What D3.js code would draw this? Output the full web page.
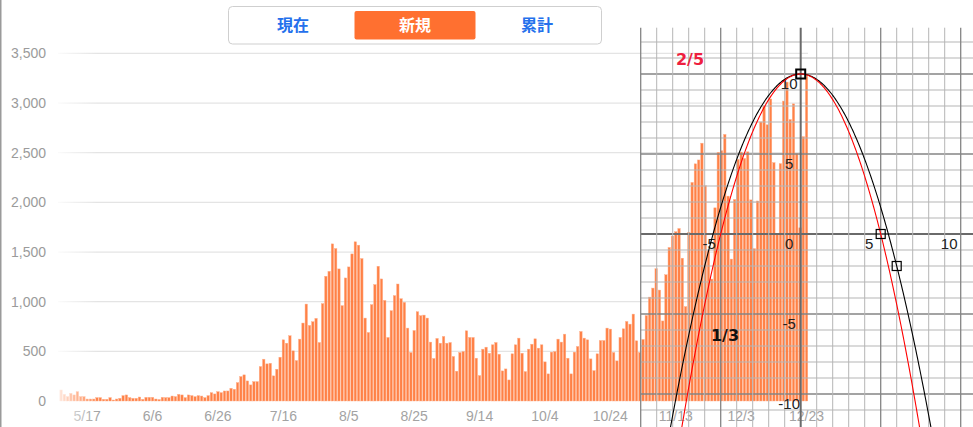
<!DOCTYPE html>
<html><head><meta charset="utf-8">
<script src="https://cdn.jsdelivr.net/npm/d3@7"></script>
<style>html,body{margin:0;padding:0;background:#fff;overflow:hidden}svg{display:block}</style>
</head><body><svg id="c" width="973" height="427"></svg>
<script>
// ---------- data ----------
const startDate = "2020-05-09";
const dailyNew = [
 111,67,44,77,61,94,44,44,20,20,20,34,34,17,17,34,10,20,27,54,61,34,27,
 27,40,17,37,37,37,20,15,37,34,34,50,44,67,61,34,61,
 54,44,54,50,34,54,84,71,94,84,101,101,128,
 118,185,246,263,202,162,195,195,347,421,374,380,253,320,441,616,582,657,505,407,623,785,976,761,798,832,589,
 980,1256,1306,1582,
 1535,1330,960,1239,1350,1481,1603,1569,1434,835,690,970,1172,1357,1229,1013,640,909,1061,1178,1030,993,734,488,710,899,859,865,835,593,428,
 630,582,650,582,589,448,300,488,498,707,640,640,431,256,522,542,481,566,589,471,303,323,212,475,566,633,481,296,522,572,
 626,532,566,394,273,492,498,623,593,673,431,273,492,549,700,633,616,424,306,475,609,609,734,724,488,404,640,727,801,774,875,
 606,488,620,860,1046,1137,1332,1117,806,1271,1546,1661,1704,1737,1438,950,1699,2201,2388,2427,2596,2168,1518,1228,1945,2504,2520,2684,2063,1429,
 2029,2433,2506,2442,2509,2025,1534,2014,2810,2972,2781,3041,2400,1679,2390,3020,3211,2834,2992,2491,1744,2661,3271
];
const yTicks = [0,500,1000,1500,2000,2500,3000,3500];
const xTickLabels = ["5/17","6/6","6/26","7/16","8/5","8/25","9/14","10/4","10/24","11/13","12/3","12/23"];
const tabLabels = ["現在","新規","累計"];
const activeTab = "新規";
// overlay (graph paper)
const gridRange = [-10, 10];
const gridMajorStep = 5;
const gridTickLabelsX = [-5,0,5,10];
const gridTickLabelsY = [10,5,-5,-10];
const curveCoefs = [-1/3, -2/5];
const curveIntercept = 10;
const curveNames = ["1/3","2/5"];
const markerPoints = [[0,10],[5,0],[6,-2]];

// ---------- chart ----------
const svg = d3.select("#c");
const W = 973, H = 427;
const parse = d3.timeParse("%Y-%m-%d");
const d0 = parse(startDate);
const dates = dailyNew.map((v,i)=>d3.timeDay.offset(d0,i));
const fmt = d=>(d.getMonth()+1)+"/"+d.getDate();
const cats = dates.map(fmt);

const x = d3.scaleBand().domain(cats).range([59.37, 59.37 + 3.27*cats.length]).padding(0);
const y = d3.scaleLinear().domain([0,3500]).range([401, 53.4]);
const step = x.step();

// left border
svg.append("line").attr("x1",0.75).attr("x2",0.75).attr("y1",0).attr("y2",H)
  .attr("stroke","#9a9a9a").attr("stroke-width",1.5);

// gridlines
svg.append("g").selectAll("line").data(yTicks.filter(t=>t>0)).join("line")
  .attr("x1",58).attr("x2",808).attr("y1",d=>y(d)).attr("y2",d=>y(d))
  .attr("stroke","#e4e4e4").attr("stroke-width",1.3);

// y labels
svg.append("g").selectAll("text").data(yTicks).join("text")
  .attr("x",46).attr("y",d=>y(d)+5).attr("text-anchor","end")
  .attr("font-family","'Liberation Sans',Arial,sans-serif").attr("font-size",14)
  .attr("fill","#9b9b9b").text(d=>d3.format(",")(d));

// bars
svg.append("g").selectAll("rect").data(dailyNew).join("rect")
  .attr("x",(d,i)=>x(cats[i])+step*0.13).attr("width",step*0.74)
  .attr("y",d=>y(d)).attr("height",d=>y(0)-y(d))
  .attr("fill","#ff7636").attr("fill-opacity",0.92)
  .attr("stroke","#ffb08c").attr("stroke-width",0.45);

// x labels
svg.append("g").selectAll("text").data(xTickLabels).join("text")
  .attr("x",d=>x(d)+step/2).attr("y",421).attr("text-anchor","middle")
  .attr("font-family","'Liberation Sans',Arial,sans-serif").attr("font-size",14)
  .attr("fill","#a3a3a3").text(d=>d);

// left fade
const defs = svg.append("defs");
const lg = defs.append("linearGradient").attr("id","fade").attr("x1","0").attr("x2","1").attr("y1","0").attr("y2","0");
lg.append("stop").attr("offset","0").attr("stop-color","#fff").attr("stop-opacity",0.9);
lg.append("stop").attr("offset","0.35").attr("stop-color","#fff").attr("stop-opacity",0.55);
lg.append("stop").attr("offset","1").attr("stop-color","#fff").attr("stop-opacity",0);
svg.append("rect").attr("x",56).attr("y",40).attr("width",42).attr("height",387).attr("fill","url(#fade)");

// tabs
const tabs = svg.append("g");
tabs.append("rect").attr("x",228.5).attr("y",6.5).attr("width",373).attr("height",37.5).attr("rx",4)
  .attr("fill","#fff").attr("stroke","#cfcfcf").attr("stroke-width",1);
const tabCenters = [293, 415, 537];
tabLabels.forEach((t,i)=>{
  if(t===activeTab){
    tabs.append("rect").attr("x",tabCenters[i]-60.5).attr("y",11).attr("width",121).attr("height",28.5).attr("rx",2)
      .attr("fill","#ff7030");
  }
  tabs.append("text").attr("x",tabCenters[i]).attr("y",31).attr("text-anchor","middle")
    .attr("font-family","'Noto Sans CJK JP',sans-serif").attr("font-weight",700).attr("font-size",16)
    .attr("fill",t===activeTab?"#fff":"#2470ec").text(t);
});

// ---------- overlay graph paper ----------
const gx = d3.scaleLinear().domain(gridRange).range([640.7, 960.7]);
const gy = d3.scaleLinear().domain([10,-10]).range([74, 394]);
const gTop = 27.7;
const ov = svg.append("g");
const vTicks = d3.range(gridRange[0], gridRange[1]+1);
const hTicks = d3.range(-11, 13);
function lineStyle(sel, k){
  if(k===0) sel.attr("stroke","#6a6a6a").attr("stroke-width",2);
  else if(k%gridMajorStep===0) sel.attr("stroke","#858585").attr("stroke-width",1.3);
  else sel.attr("stroke","#b5b5b5").attr("stroke-width",1);
}
const rank = k => k===0 ? 2 : (k%gridMajorStep===0 ? 1 : 0);
const order = arr => arr.slice().sort((a,b)=>rank(a)-rank(b));
order(hTicks).forEach(k=>{
  ov.append("line").attr("x1",640.7).attr("x2",W).attr("y1",gy(k)).attr("y2",gy(k)).call(lineStyle,k);
});
order(vTicks).forEach(k=>{
  ov.append("line").attr("x1",gx(k)).attr("x2",gx(k)).attr("y1",gTop).attr("y2",H).call(lineStyle,k);
});

// tick labels
const lblFont = "'Liberation Sans',Arial,sans-serif";
ov.selectAll("text.tx").data(gridTickLabelsX).join("text").attr("class","tx")
  .attr("x",d=>gx(d)-11.5).attr("y",gy(0)+14.5).attr("text-anchor","middle")
  .attr("font-family",lblFont).attr("font-size",15).attr("fill","#222").text(d=>String(d));
ov.selectAll("text.ty").data(gridTickLabelsY).join("text").attr("class","ty")
  .attr("x",gx(0)-11.5).attr("y",d=>gy(d)+15).attr("text-anchor","middle")
  .attr("font-family",lblFont).attr("font-size",15).attr("fill","#222").text(d=>String(d));

// curves
defs.append("clipPath").attr("id","gclip").append("rect")
  .attr("x",640.7).attr("y",gTop).attr("width",W-640.7).attr("height",H-gTop);
const curveColors = ["#000","#ff0000"];
const xs = d3.range(-10, 11.001, 0.05);
curveCoefs.forEach((a,i)=>{
  const line = d3.line().x(v=>gx(v)).y(v=>gy(a*v*v+curveIntercept));
  ov.append("path").attr("d",line(xs)).attr("fill","none")
    .attr("stroke",curveColors[i]).attr("stroke-width",1.1).attr("clip-path","url(#gclip)");
});

// markers
ov.selectAll("rect.m").data(markerPoints).join("rect").attr("class","m")
  .attr("x",d=>gx(d[0])-4.5).attr("y",d=>gy(d[1])-4.5).attr("width",9).attr("height",9)
  .attr("fill","none").attr("stroke","#000").attr("stroke-width",(d,i)=>i===0?2:1.2);

// curve labels
ov.append("text").attr("x",690).attr("y",65).attr("text-anchor","middle")
  .attr("font-family","'DejaVu Sans',sans-serif").attr("font-weight",700).attr("font-size",16)
  .attr("fill","#ee1f3f").text(curveNames[1]);
ov.append("text").attr("x",725).attr("y",341).attr("text-anchor","middle")
  .attr("font-family","'DejaVu Sans',sans-serif").attr("font-weight",700).attr("font-size",16)
  .attr("fill","#111").text(curveNames[0]);
</script></body></html>
